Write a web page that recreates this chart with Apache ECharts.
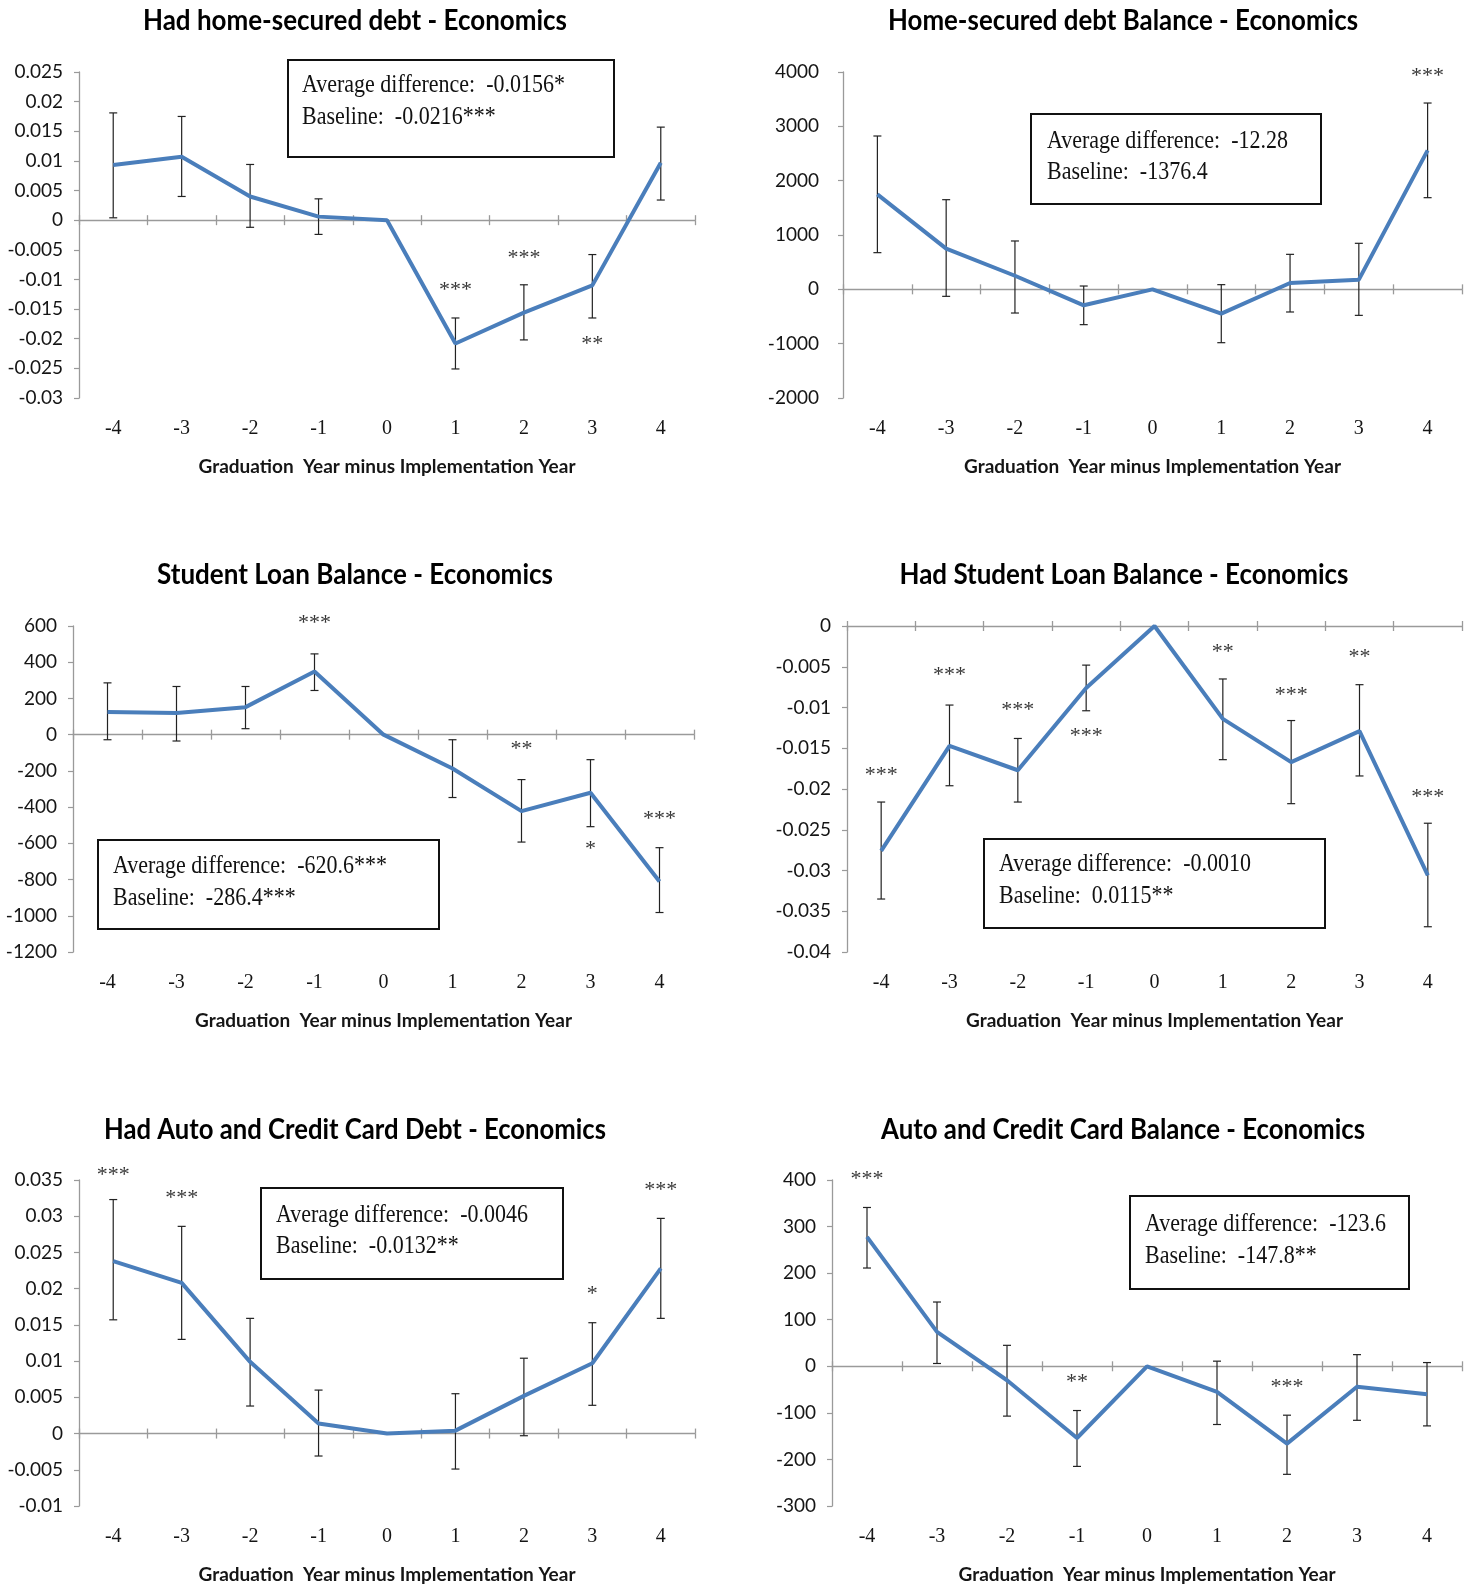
<!DOCTYPE html>
<html><head><meta charset="utf-8">
<script src="https://cdn.jsdelivr.net/npm/echarts@6/dist/echarts.min.js"></script>
<style>html,body{margin:0;padding:0;background:#fff}#c{width:1475px;height:1588px}</style>
</head><body><div id="c"></div><script>
// ---------- DATA ----------
const categories = ['-4','-3','-2','-1','0','1','2','3','4'];
const xAxisTitle = 'Graduation  Year minus Implementation Year';

// Panel 1: Had home-secured debt
const p1Title = 'Had home-secured debt - Economics';
const p1Values = [0.0093, 0.0107, 0.0040, 0.0006, 0, -0.0208, -0.0156, -0.0110, 0.0097];
const p1Low    = [0.0004, 0.0040, -0.0012, -0.0024, null, -0.0251, -0.0202, -0.0165, 0.0034];
const p1High   = [0.0181, 0.0175, 0.0094, 0.0036, null, -0.0165, -0.0109, -0.0058, 0.0157];
const p1StarX = ['1','2','3'];
const p1StarY = [-0.0111, -0.0058, -0.0202];
const p1StarText = ['***','***','**'];
const p1YAxis = [-0.03, 0.025, 0.005];
const p1Box = ['Average difference:  -0.0156*', 'Baseline:  -0.0216***'];

// Panel 2: Home-secured debt Balance
const p2Title = 'Home-secured debt Balance - Economics';
const p2Values = [1748, 748, 250, -294, 0, -448, 117, 178, 2558];
const p2Low    = [675, -129, -436, -650, null, -982, -417, -479, 1687];
const p2High   = [2822, 1650, 890, 61, null, 86, 644, 847, 3429];
const p2StarX = ['4'];
const p2StarY = [4000];
const p2StarText = ['***'];
const p2YAxis = [-2000, 4000, 1000];
const p2Box = ['Average difference:  -12.28', 'Baseline:  -1376.4'];

// Panel 3: Student Loan Balance
const p3Title = 'Student Loan Balance - Economics';
const p3Values = [125, 119, 152, 349, 0, -187, -422, -321, -811];
const p3Low    = [-28, -35, 33, 244, null, -347, -593, -508, -982];
const p3High   = [286, 266, 266, 446, null, -28, -248, -138, -624];
const p3StarX = ['-1','2','3','4'];
const p3StarY = [637, -61, -609, -447];
const p3StarText = ['***','**','*','***'];
const p3YAxis = [-1200, 600, 200];
const p3Box = ['Average difference:  -620.6***', 'Baseline:  -286.4***'];

// Panel 4: Had Student Loan Balance
const p4Title = 'Had Student Loan Balance - Economics';
const p4Values = [-0.0276, -0.0147, -0.0177, -0.0076, 0, -0.0114, -0.0167, -0.0129, -0.0306];
const p4Low    = [-0.0335, -0.0196, -0.0216, -0.0104, null, -0.0164, -0.0218, -0.0184, -0.0369];
const p4High   = [-0.0216, -0.0097, -0.0138, -0.0048, null, -0.0065, -0.0116, -0.0072, -0.0242];
const p4StarX = ['-4','-3','-2','-1','1','2','3','4'];
const p4StarY = [-0.0178, -0.0056, -0.0099, -0.0130, -0.0027, -0.0080, -0.0034, -0.0205];
const p4StarText = ['***','***','***','***','**','***','**','***'];
const p4YAxis = [-0.04, 0, 0.005];
const p4Box = ['Average difference:  -0.0010', 'Baseline:  0.0115**'];

// Panel 5: Had Auto and Credit Card Debt
const p5Title = 'Had Auto and Credit Card Debt - Economics';
const p5Values = [0.0238, 0.0208, 0.0099, 0.0014, 0, 0.0004, 0.0052, 0.0097, 0.0228];
const p5Low    = [0.0157, 0.0130, 0.0038, -0.0031, null, -0.0049, -0.0003, 0.0039, 0.0159];
const p5High   = [0.0323, 0.0286, 0.0159, 0.0060, null, 0.0055, 0.0104, 0.0153, 0.0297];
const p5StarX = ['-4','-3','3','4'];
const p5StarY = [0.0362, 0.0330, 0.0198, 0.0341];
const p5StarText = ['***','***','*','***'];
const p5YAxis = [-0.01, 0.035, 0.005];
const p5Box = ['Average difference:  -0.0046', 'Baseline:  -0.0132**'];

// Panel 6: Auto and Credit Card Balance
const p6Title = 'Auto and Credit Card Balance - Economics';
const p6Values = [278, 74, -30, -154, 0, -55, -166, -44, -60];
const p6Low    = [211, 6, -107, -215, null, -125, -232, -116, -128];
const p6High   = [341, 138, 45, -95, null, 11, -105, 25, 8];
const p6StarX = ['-4','-1','2'];
const p6StarY = [411, -26, -37];
const p6StarText = ['***','**','***'];
const p6YAxis = [-300, 400, 100];
const p6Box = ['Average difference:  -123.6', 'Baseline:  -147.8**'];

// ---------- LAYOUT ----------
const grids = [
  {left:79, top:72, width:616, height:326},
  {left:843, top:72, width:619, height:326},
  {left:73, top:626, width:621, height:326},
  {left:847, top:626, width:615, height:326},
  {left:79, top:1180, width:616, height:326},
  {left:832, top:1180, width:630, height:326}
];
const yLabelMargin = [16, 24, 16, 16, 16, 16];
const titlePos = [[355,21,424],[1123,21,470],[355,575,396],[1124,575,449],[355,1130,502],[1123,1130,484]];
// box: x, y, w, h, textX, line1Y, line2Y
const boxPos = [
  [288, 60, 326, 97, 302, 85, 117],
  [1031, 114, 290, 90, 1047, 141, 172],
  [98, 840, 341, 89, 113, 866, 898],
  [984, 839, 341, 89, 999, 864, 896],
  [261, 1188, 302, 91, 276, 1215, 1246],
  [1130, 1196, 279, 93, 1145, 1224, 1256]
];

const panels = [
  [p1Title, p1Values, p1Low, p1High, p1StarX, p1StarY, p1StarText, p1YAxis, p1Box],
  [p2Title, p2Values, p2Low, p2High, p2StarX, p2StarY, p2StarText, p2YAxis, p2Box],
  [p3Title, p3Values, p3Low, p3High, p3StarX, p3StarY, p3StarText, p3YAxis, p3Box],
  [p4Title, p4Values, p4Low, p4High, p4StarX, p4StarY, p4StarText, p4YAxis, p4Box],
  [p5Title, p5Values, p5Low, p5High, p5StarX, p5StarY, p5StarText, p5YAxis, p5Box],
  [p6Title, p6Values, p6Low, p6High, p6StarX, p6StarY, p6StarText, p6YAxis, p6Box]
];

// ---------- STYLE ----------
const LINE_COLOR = '#4a7ebb';
const AXIS_COLOR = '#9a9a9a';
const TEXT_COLOR = '#151515';
const SANS = 'Lato, "Open Sans", sans-serif';
const SERIF = '"Liberation Serif", "Times New Roman", serif';
const titleFont = 'bold 28px Lato, "Open Sans", sans-serif';
const boxFont = '25px "Liberation Serif", serif';

const mctx = document.createElement('canvas').getContext('2d');
function textW(t, font){ mctx.font = font; return mctx.measureText(t).width; }
const boxScale = 252 / textW('Average difference:  -0.0046', boxFont);

function errRender(params, api){
  const x = api.value(0);
  const lo = api.coord([x, api.value(1)]);
  const hi = api.coord([x, api.value(2)]);
  const w = 4;
  const st = {stroke:'#222', lineWidth:1.2};
  return {type:'group', children:[
    {type:'line', shape:{x1:lo[0],y1:lo[1],x2:hi[0],y2:hi[1]}, style:st},
    {type:'line', shape:{x1:lo[0]-w,y1:lo[1],x2:lo[0]+w,y2:lo[1]}, style:st},
    {type:'line', shape:{x1:hi[0]-w,y1:hi[1],x2:hi[0]+w,y2:hi[1]}, style:st}
  ]};
}
function fmt(v){ return String(+(+v).toFixed(4)); }

const xAxes = [], yAxes = [], series = [], graphics = [];
panels.forEach((p, i) => {
  const [title, vals, low, high, sx, sy, st, yax, box] = p;
  xAxes.push({
    type:'category', gridIndex:i, data:categories, position:'bottom',
    axisLine:{show:false, onZero:false}, axisTick:{show:false},
    axisLabel:{fontFamily:SERIF, fontSize:20, color:TEXT_COLOR, margin:21},
    name:xAxisTitle, nameLocation:'middle', nameGap:59,
    nameTextStyle:{fontFamily:SANS, fontWeight:'bold', fontSize:19, color:TEXT_COLOR}
  });
  xAxes.push({
    type:'category', gridIndex:i, data:categories, position:'bottom',
    axisLine:{show:true, onZero:true, onZeroAxisIndex:i, lineStyle:{color:AXIS_COLOR, width:1.3}},
    axisTick:{show:true, inside:false, length:5, lineStyle:{color:AXIS_COLOR, width:1.3}},
    axisLabel:{show:false}
  });
  xAxes.push({
    type:'category', gridIndex:i, data:categories, position:'bottom',
    axisLine:{show:false, onZero:true, onZeroAxisIndex:i},
    axisTick:{show:true, inside:true, length:5, lineStyle:{color:AXIS_COLOR, width:1.3}},
    axisLabel:{show:false}
  });
  yAxes.push({
    type:'value', gridIndex:i, min:yax[0], max:yax[1], interval:yax[2],
    axisLine:{show:true, onZero:false, lineStyle:{color:AXIS_COLOR, width:1.3}},
    axisTick:{show:true, length:5, lineStyle:{color:AXIS_COLOR, width:1.2}},
    splitLine:{show:false},
    axisLabel:{fontFamily:SANS, fontSize:19, color:TEXT_COLOR, margin:yLabelMargin[i], formatter:fmt}
  });
  const xi = i*3;
  series.push({
    type:'custom', xAxisIndex:xi, yAxisIndex:i, renderItem:errRender, z:2, silent:true,
    encode:{x:0, y:[1,2]},
    data: low.map((l, k) => l == null ? null : [k, l, high[k]]).filter(d => d)
  });
  series.push({
    type:'line', xAxisIndex:xi, yAxisIndex:i, data:vals, symbol:'none', z:3, silent:true,
    lineStyle:{color:LINE_COLOR, width:4}, itemStyle:{color:LINE_COLOR}
  });
  series.push({
    type:'scatter', xAxisIndex:xi, yAxisIndex:i, symbolSize:0, clip:false, silent:true, z:4,
    data: sx.map((x, k) => [x, sy[k]]),
    label:{show:true, position:'inside', offset:[0,4], color:'#000', fontFamily:SERIF, fontSize:22,
      formatter: (prm) => st[prm.dataIndex]}
  });
  const tp = titlePos[i];
  graphics.push({
    type:'text', x:tp[0], y:tp[1], scaleX: tp[2] / textW(title, titleFont), silent:true,
    style:{text:title, font:titleFont, fill:'#000', align:'center', verticalAlign:'middle',
           textAlign:'center', textVerticalAlign:'middle'}
  });
  const b = boxPos[i];
  graphics.push({type:'rect', shape:{x:b[0], y:b[1], width:b[2], height:b[3]}, silent:true,
    style:{fill:'#fff', stroke:'#111', lineWidth:2}, z:10});
  [b[5], b[6]].forEach((ly, li) => {
    graphics.push({type:'text', x:b[4], y:ly, scaleX:boxScale, silent:true, z:11,
      style:{text:box[li], font:boxFont, fill:'#111', align:'left', verticalAlign:'middle',
             textAlign:'left', textVerticalAlign:'middle'}});
  });
});

const chart = echarts.init(document.getElementById('c'), null, {renderer:'canvas'});
chart.setOption({
  animation:false,
  backgroundColor:'#fff',
  grid: grids.map(g => Object.assign({containLabel:false}, g)),
  xAxis: xAxes,
  yAxis: yAxes,
  series: series,
  graphic: graphics
});
</script></body></html>
